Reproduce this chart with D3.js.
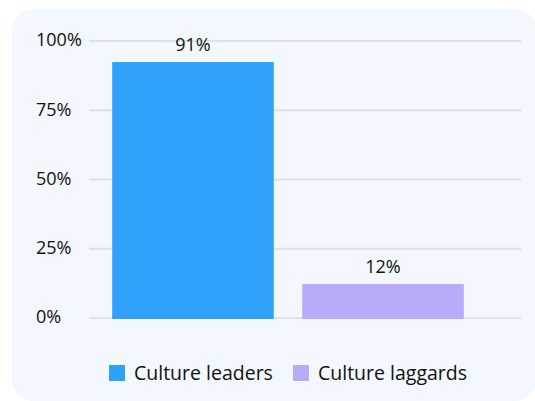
<!DOCTYPE html>
<html>
<head>
<meta charset="utf-8">
<script src="https://cdn.jsdelivr.net/npm/d3@7"></script>
<style>
  body { margin: 0; background: #fff; font-family: "Open Sans", "Inter", sans-serif; }
</style>
</head>
<body>
<div id="chart"></div>
<script>
// data
const categories = ["Culture leaders", "Culture laggards"];
const values = [92.4, 12.3];
const valueLabels = ["91%", "12%"];
const colors = ["#30a1fa", "#b7abfa"];
const yTicks = [0, 25, 50, 75, 100];

const W = 535, H = 401;
const svg = d3.select("#chart").append("svg")
    .attr("width", W)
    .attr("height", H);

// panel background
svg.append("rect")
    .attr("x", 12).attr("y", 9)
    .attr("width", 525).attr("height", 392)
    .attr("rx", 22)
    .attr("fill", "#f3f8fe");

const x = d3.scaleBand()
    .domain(categories)
    .range([97, 479])
    .paddingInner(0.15)
    .paddingOuter(0.08);

const y = d3.scaleLinear()
    .domain([0, 100])
    .range([318, 41]);

// gridlines
svg.append("g")
    .selectAll("line")
    .data(yTicks)
    .enter().append("line")
    .attr("x1", 89).attr("x2", 521)
    .attr("y1", d => y(d)).attr("y2", d => y(d))
    .attr("stroke", "#dde1eb")
    .attr("stroke-width", 2);

// y tick labels
svg.append("g")
    .selectAll("text")
    .data(yTicks)
    .enter().append("text")
    .attr("x", 36)
    .attr("y", d => y(d) - 1)
    .attr("dy", "0.35em")
    .attr("font-size", 18)
    .attr("fill", "#111")
    .text(d => d + "%");

// bars
svg.append("g")
    .selectAll("rect")
    .data(values)
    .enter().append("rect")
    .attr("x", (d, i) => x(categories[i]))
    .attr("y", d => y(d))
    .attr("width", x.bandwidth())
    .attr("height", d => y(0) - y(d) + 1)
    .attr("fill", (d, i) => colors[i]);

// value labels
svg.append("g")
    .selectAll("text")
    .data(values)
    .enter().append("text")
    .attr("x", (d, i) => x(categories[i]) + x.bandwidth() / 2)
    .attr("y", d => y(d) - 11)
    .attr("text-anchor", "middle")
    .attr("font-size", 18)
    .attr("fill", "#111")
    .text((d, i) => valueLabels[i]);

// legend
const legendX = [109, 293];
const legend = svg.append("g")
    .selectAll("g")
    .data(categories)
    .enter().append("g")
    .attr("transform", (d, i) => `translate(${legendX[i]},365)`);

legend.append("rect")
    .attr("width", 16).attr("height", 16)
    .attr("fill", (d, i) => colors[i]);

legend.append("text")
    .attr("x", 25)
    .attr("y", 8)
    .attr("dy", "0.35em")
    .attr("font-size", 19.5)
    .attr("fill", "#111")
    .text(d => d);
</script>
</body>
</html>
